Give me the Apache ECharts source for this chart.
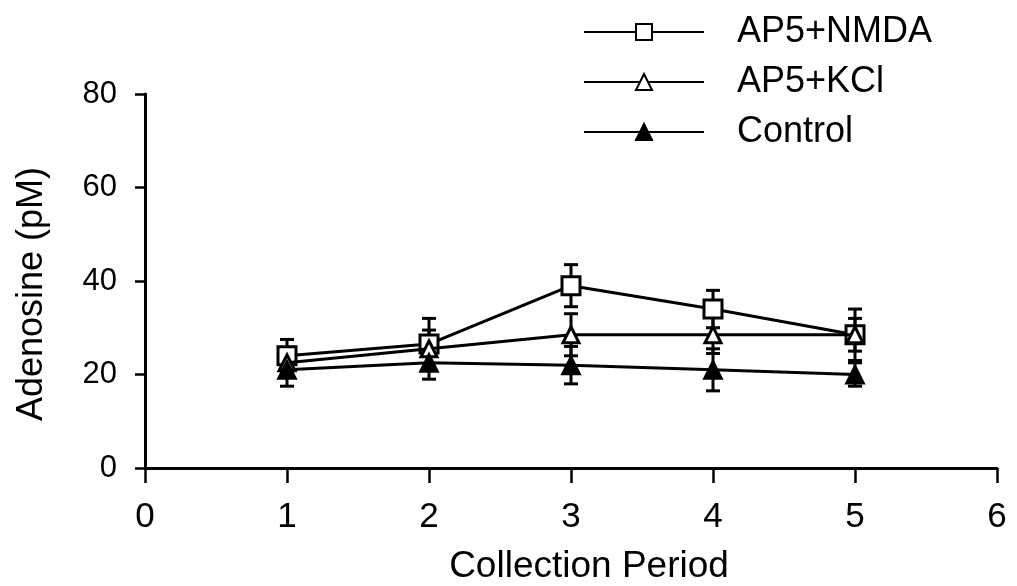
<!DOCTYPE html>
<html>
<head>
<meta charset="utf-8">
<script src="https://cdn.jsdelivr.net/npm/echarts@6/dist/echarts.min.js"></script>
<style>html,body{margin:0;padding:0;background:#fff}#c{width:1017px;height:586px}</style>
</head>
<body>
<div id="c"></div>
<script>
var periods = [1, 2, 3, 4, 5];
var xTicks = [0, 1, 2, 3, 4, 5, 6];
var yTicks = [0, 20, 40, 60, 80];
var seriesNames = ['AP5+NMDA', 'AP5+KCl', 'Control'];
var nmdaMean = [24, 26.5, 39, 34, 28.5];
var nmdaErr = [3.5, 5.5, 4.5, 4, 5.5];
var kclMean = [22.5, 25.5, 28.5, 28.5, 28.5];
var kclErr = [3, 4, 4.5, 4, 3.5];
var ctrlMean = [21, 22.5, 22, 21, 20];
var ctrlErr = [3.5, 3.5, 4, 4.5, 2.5];

var FONT = 'Liberation Sans, Arial, sans-serif';

function pts(mean) { return periods.map(function (p, i) { return [p, mean[i]]; }); }
function errs(mean, err) { return periods.map(function (p, i) { return [p, mean[i] - err[i], mean[i] + err[i]]; }); }

function errRender(params, api) {
  var x = api.value(0);
  var lo = api.coord([x, api.value(1)]);
  var hi = api.coord([x, api.value(2)]);
  var w = 7;
  var st = { stroke: '#000', lineWidth: 3 };
  return {
    type: 'group',
    children: [
      { type: 'line', shape: { x1: lo[0], y1: lo[1], x2: hi[0], y2: hi[1] }, style: st },
      { type: 'line', shape: { x1: lo[0] - w, y1: lo[1], x2: lo[0] + w, y2: lo[1] }, style: st },
      { type: 'line', shape: { x1: hi[0] - w, y1: hi[1], x2: hi[0] + w, y2: hi[1] }, style: st }
    ]
  };
}

function errSeries(mean, err) {
  return {
    type: 'custom', renderItem: errRender, data: errs(mean, err), z: 1, silent: true,
    encode: { x: 0, y: [1, 2] }
  };
}

var lineStyle = { color: '#000', width: 3 };
var chart = echarts.init(document.getElementById('c'));
chart.setOption({
  animation: false,
  backgroundColor: '#fff',
  grid: { left: 145, right: 20, top: 94, bottom: 118, containLabel: false, outerBoundsMode: 'none' },
  legend: {
    orient: 'vertical', left: 578, top: 9, itemWidth: 120, itemHeight: 20, itemGap: 14,
    textStyle: { fontFamily: FONT, fontSize: 36, lineHeight: 36, color: '#000', padding: [0, 0, 0, 28] },
    data: seriesNames
  },
  xAxis: {
    type: 'value', min: 0, max: 6, interval: 1,
    name: 'Collection Period', nameLocation: 'middle', nameGap: 80,
    nameTextStyle: { fontFamily: FONT, fontSize: 37, color: '#000', padding: [0, 0, 0, 36] },
    axisLine: { onZero: false, lineStyle: { color: '#000', width: 3 } },
    axisTick: { show: true, length: 15, lineStyle: { color: '#000', width: 2.5 } },
    axisLabel: { fontFamily: FONT, fontSize: 35, color: '#000', margin: 32,
      formatter: function (v) { return xTicks.indexOf(v) >= 0 ? String(v) : ''; } },
    splitLine: { show: false }
  },
  yAxis: {
    type: 'value', min: 0, max: 80, interval: 20,
    name: 'Adenosine (pM)', nameLocation: 'middle', nameGap: 95, nameRotate: 90,
    nameTextStyle: { fontFamily: FONT, fontSize: 36, color: '#000', padding: [0, 26, 0, 0] },
    axisLine: { show: true, lineStyle: { color: '#000', width: 3 } },
    axisTick: { show: true, length: 10, lineStyle: { color: '#000', width: 2.5 } },
    axisLabel: { fontFamily: FONT, fontSize: 31, color: '#000', margin: 28,
      formatter: function (v) { return yTicks.indexOf(v) >= 0 ? String(v) : ''; } },
    splitLine: { show: false }
  },
  series: [
    errSeries(nmdaMean, nmdaErr),
    errSeries(kclMean, kclErr),
    errSeries(ctrlMean, ctrlErr),
    {
      name: seriesNames[0], type: 'line', data: pts(nmdaMean), z: 3,
      symbol: 'rect', symbolSize: 18, showAllSymbol: true,
      lineStyle: lineStyle, itemStyle: { color: '#fff', borderColor: '#000', borderWidth: 3 }
    },
    {
      name: seriesNames[1], type: 'line', data: pts(kclMean), z: 4,
      symbol: 'triangle', symbolSize: 16,
      lineStyle: lineStyle, itemStyle: { color: '#fff', borderColor: '#000', borderWidth: 3 }
    },
    {
      name: seriesNames[2], type: 'line', data: pts(ctrlMean), z: 4,
      symbol: 'triangle', symbolSize: 18,
      lineStyle: lineStyle, itemStyle: { color: '#000', borderColor: '#000', borderWidth: 2 }
    }
  ]
});
</script>
</body>
</html>
